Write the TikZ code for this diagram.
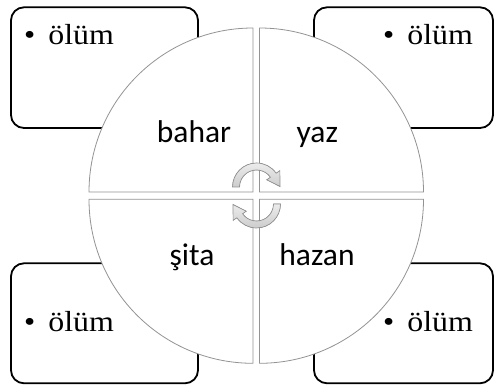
\documentclass[tikz,border=0pt]{standalone}
\usepackage{fontspec}
\newfontfamily\serifbox[FakeStretch=1.1]{Liberation Serif}
\newfontfamily\sanslbl{Carlito}
\begin{document}
\begin{tikzpicture}[x=1pt,y=1pt,
  notebox/.style={draw=black,line width=1.8pt,rounded corners=13pt},
  quad/.style={draw=gray!85,line width=0.8pt,fill=white},
  seasonlbl/.style={font=\sanslbl\fontsize{31.5}{31.5}\selectfont,anchor=base,inner sep=0pt},
  bullettxt/.style={font=\serifbox\fontsize{29}{29}\selectfont,anchor=base west,inner sep=0pt},
  cyclearrow/.style={draw=gray!85,line width=0.7pt,top color=gray!15,bottom color=gray!40}]
\useasboundingbox (0,0) rectangle (494,385);
% note boxes
\draw[notebox] (11,257) rectangle (198,377.7);
\draw[notebox] (314,257) rectangle (493,377.7);
\draw[notebox] (11,1.7) rectangle (198,121.7);
\draw[notebox] (314,1.7) rectangle (493,121.7);
% quadrants
\filldraw[quad] (253,193) -- (89,193) arc[start angle=180,end angle=90,radius=164] -- cycle;
\filldraw[quad] (259.5,193) -- (259.5,357) arc[start angle=90,end angle=0,radius=164] -- cycle;
\filldraw[quad] (253,185.7) -- (253,21.7) arc[start angle=270,end angle=180,radius=164] -- cycle;
\filldraw[quad] (259.5,185.7) -- (423.5,185.7) arc[start angle=0,end angle=-90,radius=164] -- cycle;
% season labels
\node[seasonlbl] (bahar) at (194,242.3) {bahar};
\node[seasonlbl] (yaz) at (317.3,242.5) {yaz};
\node[seasonlbl] (sita) at (192,119) {şita};
\node[seasonlbl] (hazan) at (317,119) {hazan};
% box texts
\node[bullettxt] (t1) at (24,340) {\textbullet\hspace{13pt}ölüm};
\node[bullettxt] (t2) at (383,340) {\textbullet\hspace{13pt}ölüm};
\node[bullettxt] (t3) at (24,53.3) {\textbullet\hspace{13pt}ölüm};
\node[bullettxt] (t4) at (383,53.3) {\textbullet\hspace{13pt}ölüm};
% cycle arrows
\begin{scope}[shift={(256.5,198)}]
\filldraw[cyclearrow] (180:24) arc[start angle=180,end angle=35,radius=24] -- (35:28.5) -- (23.5,0.5) -- (35:12.5) -- (35:17) arc[start angle=35,end angle=180,radius=17] -- cycle;
\end{scope}
\begin{scope}[shift={(256.5,181)},rotate=180]
\filldraw[cyclearrow] (180:24) arc[start angle=180,end angle=35,radius=24] -- (35:28.5) -- (23.5,0.5) -- (35:12.5) -- (35:17) arc[start angle=35,end angle=180,radius=17] -- cycle;
\end{scope}
\end{tikzpicture}
\end{document}
